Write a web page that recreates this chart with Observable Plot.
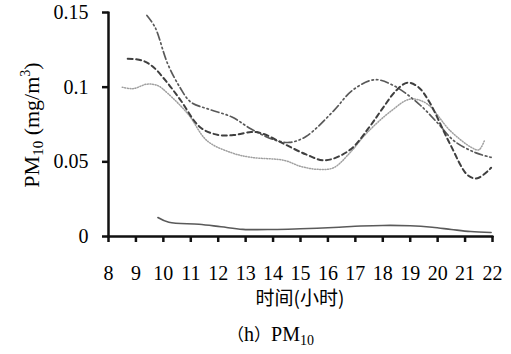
<!DOCTYPE html>
<html>
<head>
<meta charset="utf-8">
<script src="https://cdn.jsdelivr.net/npm/d3@7"></script>
<script src="https://cdn.jsdelivr.net/npm/@observablehq/plot@0.6"></script>
<style>
  body { margin: 0; background: #fff; }
  .cap { font-family: "Liberation Serif", serif; font-size: 20px; text-align: center; width: 511px; padding-left: 30px; box-sizing: border-box; line-height: 24px; margin-top: 10px; }
  .cap .cjk { font-family: "Noto Sans CJK SC", sans-serif; font-size: 17px; }
  .cap sub { font-size: 14px; vertical-align: -4px; line-height: 0; }
</style>
</head>
<body>
<div id="chart"></div>
<div class="cap"><span class="cjk">（</span>h<span class="cjk">）</span>PM<sub>10</sub></div>
<script>
// Hours (x) and PM10 values (mg/m3) for each of the four curves
const hoursA = [9.4, 9.7, 10.15, 10.6, 11.0, 11.7, 12.5, 13.2, 14.0, 14.6, 15.2, 16.2, 16.9, 17.7, 18.4, 19.3, 20.0, 20.6, 21.4, 21.95];
const valuesA = [0.148, 0.140, 0.116, 0.100, 0.090, 0.085, 0.080, 0.072, 0.065, 0.063, 0.067, 0.084, 0.098, 0.105, 0.101, 0.089, 0.076, 0.064, 0.056, 0.053];

const hoursB = [8.7, 9.2, 9.6, 10.1, 10.6, 11.35, 12.0, 12.6, 13.2, 13.6, 14.4, 15.2, 15.9, 16.8, 17.5, 18.0, 18.5, 18.9, 19.3, 19.7, 20.45, 21.1, 21.45, 21.95];
const valuesB = [0.119, 0.118, 0.114, 0.104, 0.092, 0.073, 0.068, 0.068, 0.070, 0.069, 0.062, 0.055, 0.051, 0.058, 0.073, 0.086, 0.098, 0.103, 0.100, 0.090, 0.062, 0.041, 0.039, 0.046];

const hoursC = [8.5, 8.9, 9.4, 9.8, 10.15, 10.9, 11.6, 12.5, 13.2, 14.4, 15.0, 15.6, 16.2, 16.8, 17.4, 18.3, 19.0, 19.6, 20.45, 21.2, 21.5, 21.7];
const valuesC = [0.100, 0.099, 0.102, 0.101, 0.096, 0.082, 0.064, 0.056, 0.053, 0.051, 0.047, 0.045, 0.046, 0.056, 0.069, 0.084, 0.092, 0.089, 0.071, 0.060, 0.058, 0.064];

const hoursD = [9.8, 10.2, 11.3, 12.1, 12.9, 14.0, 15.0, 16.2, 17.2, 18.0, 19.0, 19.8, 20.5, 21.2, 21.95];
const valuesD = [0.0127, 0.0095, 0.0082, 0.0065, 0.0048, 0.0047, 0.0052, 0.006, 0.007, 0.0074, 0.0072, 0.0062, 0.0047, 0.0033, 0.0027];

const xTicks = [8, 9, 10, 11, 12, 13, 14, 15, 16, 17, 18, 19, 20, 21, 22];
const yTicks = [0, 0.05, 0.1, 0.15];
const yTickLabels = ["0", "0.05", "0.1", "0.15"];

const toRows = (hs, vs) => hs.map((h, i) => ({h, v: vs[i]}));
const A = toRows(hoursA, valuesA);
const B = toRows(hoursB, valuesB);
const C = toRows(hoursC, valuesC);
const D = toRows(hoursD, valuesD);

// axis baselines derived from the tick arrays
const xMin = xTicks[0], xMax = xTicks[xTicks.length - 1];
const yMin = yTicks[0], yMax = yTicks[yTicks.length - 1];
const xAxisLine = [{h: xMin, v: yMin}, {h: xMax, v: yMin}];
const yAxisLine = [{h: xMin, v: yMin}, {h: xMin, v: yMax}];

const curve = "catmull-rom";
const serif = '"Liberation Serif", serif';
const ink = "#111";

const svg = Plot.plot({
  width: 511,
  height: 312,
  marginLeft: 108,
  marginRight: 19,
  marginTop: 12,
  marginBottom: 76,
  style: {fontFamily: serif},
  x: {domain: [xMin, xMax]},
  y: {domain: [yMin, yMax]},
  marks: [
    Plot.line(C, {x: "h", y: "v", curve, stroke: "#a0a0a0", strokeWidth: 1.5, strokeDasharray: "1,1.6"}),
    Plot.line(A, {x: "h", y: "v", curve, stroke: "#595959", strokeWidth: 1.7, strokeDasharray: "8,3,1.5,3,1.5,3"}),
    Plot.line(B, {x: "h", y: "v", curve, stroke: "#3f3f3f", strokeWidth: 2, strokeDasharray: "5,3.5"}),
    Plot.line(D, {x: "h", y: "v", curve, stroke: "#5a5a5a", strokeWidth: 1.6}),
    Plot.line(xAxisLine, {x: "h", y: "v", stroke: ink, strokeWidth: 2.5}),
    Plot.line(yAxisLine, {x: "h", y: "v", stroke: ink, strokeWidth: 2.5}),
    Plot.axisX({ticks: xTicks, tickFormat: d => String(d), tickSize: 6, tickPadding: 23, fontSize: 20, stroke: ink, fill: "#000", strokeWidth: 2.5, label: null}),
    Plot.axisY({ticks: yTicks, tickFormat: d => yTickLabels[yTicks.indexOf(d)], tickSize: 6, tickPadding: 14, fontSize: 20, stroke: ink, fill: "#000", strokeWidth: 2.5, label: null})
  ]
});

svg.setAttribute("font-family", serif);
svg.style.display = "block";
svg.style.background = "#fff";

const s = d3.select(svg);
// x-axis label
s.append("text")
  .attr("x", 300).attr("y", 305)
  .attr("text-anchor", "middle")
  .attr("font-family", '"Noto Sans CJK SC", sans-serif')
  .attr("font-size", 19)
  .attr("fill", "#000")
  .text("时间(小时)");

// y-axis label with subscript / superscript
const yl = s.append("text")
  .attr("transform", "translate(39,125) rotate(-90)")
  .attr("text-anchor", "middle")
  .attr("font-family", serif)
  .attr("font-size", 22)
  .attr("fill", "#000");
yl.append("tspan").text("PM");
yl.append("tspan").attr("font-size", 15).attr("dy", 4).text("10");
yl.append("tspan").attr("dy", -4).text(" (mg/m");
yl.append("tspan").attr("font-size", 14).attr("dy", -9).text("3");
yl.append("tspan").attr("dy", 9).text(")");

document.getElementById("chart").appendChild(svg);
</script>
</body>
</html>
